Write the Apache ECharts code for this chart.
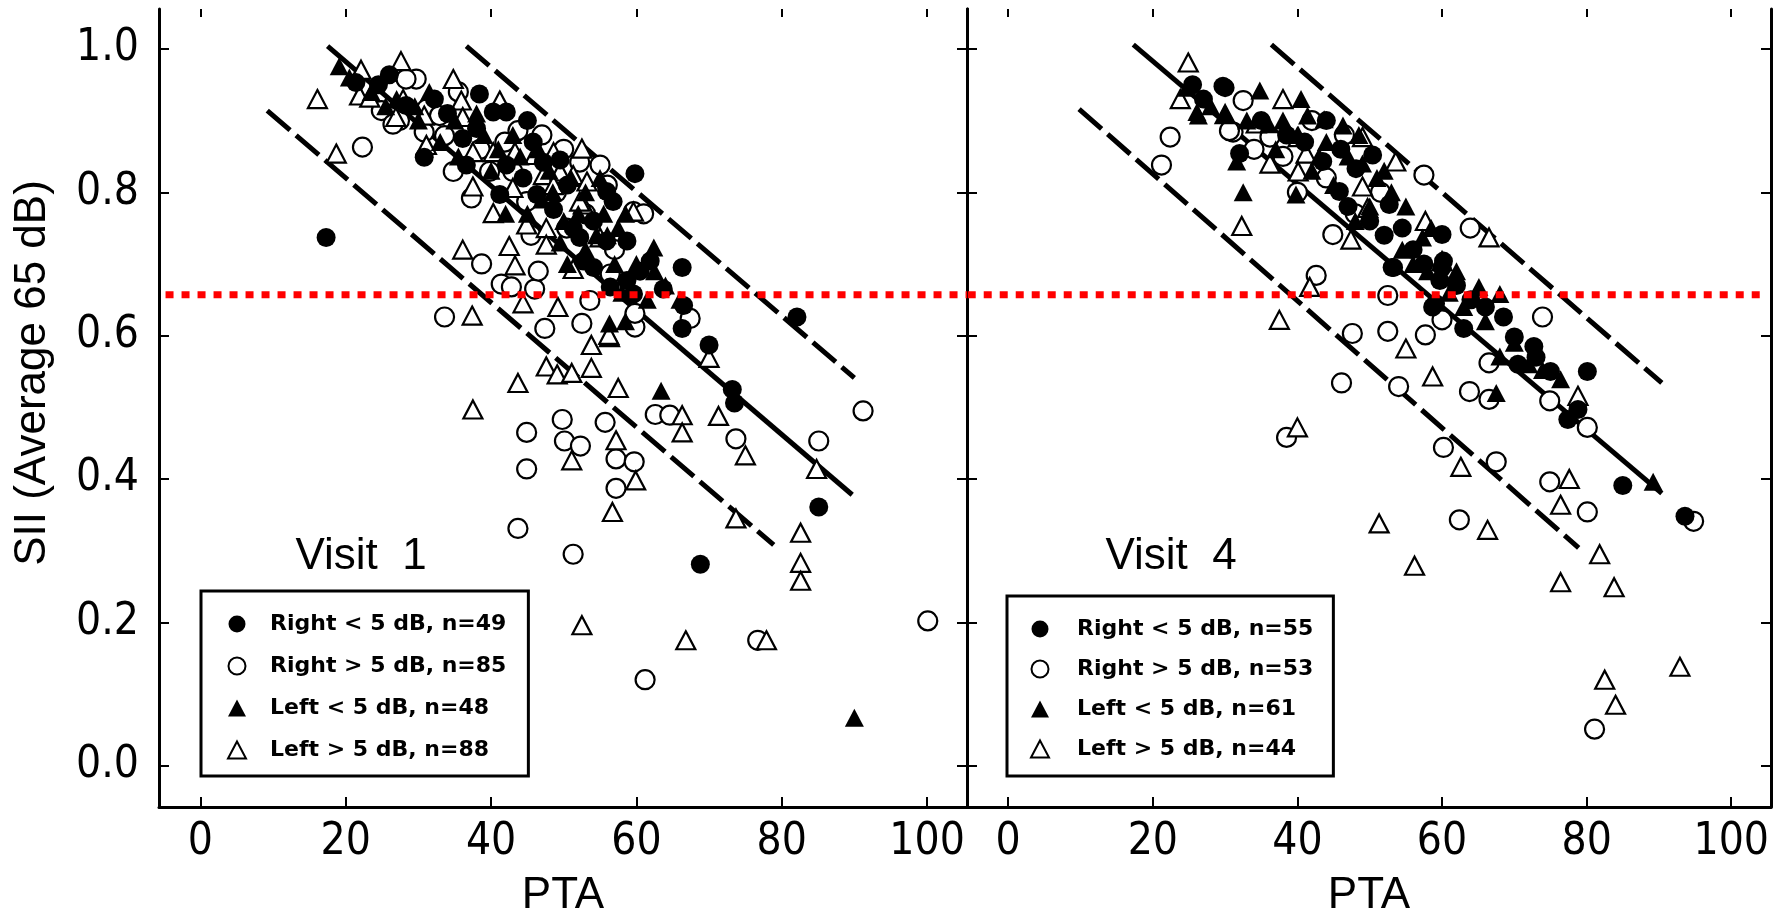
<!DOCTYPE html>
<html>
<head>
<meta charset="utf-8">
<title>SII vs PTA, Visit 1 and Visit 4</title>
<script src="https://cdn.jsdelivr.net/npm/echarts@6/dist/echarts.min.js"></script>
<style>
  html, body { margin: 0; padding: 0; background: #fff; }
  #chart { width: 1787px; height: 923px; }
</style>
</head>
<body>
<div id="chart"></div>
<script>
// ticks shared by both panels
const ptaTicks = [0, 20, 40, 60, 80, 100];
const siiTicks = [0, 0.2, 0.4, 0.6, 0.8, 1.0];
const siiCutoff = 0.657; // red dotted line

// ---- Visit 1 ----
const v1RightLt5 = [[17.3,0.737],[30.8,0.849],[38.4,0.937],[48.6,0.776],[59.8,0.826],[66.3,0.695],[63.7,0.665],[66.5,0.642],[66.3,0.610],[70.0,0.587],[82.1,0.626],[85.1,0.361],[68.8,0.281],[73.2,0.525],[73.5,0.506],[26.0,0.964],[21.4,0.953],[32.2,0.930],[28.3,0.921],[40.3,0.912],[42.1,0.912],[36.1,0.875],[38.0,0.889],[45.8,0.870],[47.2,0.842],[42.1,0.838],[36.6,0.838],[44.4,0.820],[41.2,0.797],[46.3,0.797],[55.9,0.801],[56.8,0.787],[54.1,0.760],[51.3,0.750],[55.9,0.732],[58.7,0.732],[52.7,0.704],[54.1,0.695],[58.7,0.677],[56.4,0.668],[59.6,0.658],[52.2,0.737],[61.9,0.704],[50.5,0.810],[49.5,0.845],[45.0,0.900],[34.0,0.910],[24.5,0.950],[60.5,0.690]];
const v1RightGt5 = [[22.3,0.863],[24.9,0.914],[27.4,0.900],[43.7,0.886],[34.8,0.829],[37.3,0.792],[59.6,0.773],[38.7,0.700],[41.4,0.672],[42.8,0.668],[46.0,0.665],[33.6,0.626],[47.4,0.610],[52.5,0.617],[53.6,0.649],[59.8,0.612],[59.8,0.631],[67.4,0.624],[56.4,0.686],[55.0,0.838],[43.0,0.829],[44.9,0.787],[50.4,0.750],[29.7,0.958],[28.3,0.958],[31.1,0.916],[32.9,0.907],[26.5,0.895],[30.8,0.884],[33.6,0.879],[41.9,0.870],[39.8,0.829],[52.2,0.842],[44.9,0.465],[44.9,0.414],[49.8,0.483],[50.1,0.453],[52.3,0.446],[55.7,0.479],[57.2,0.428],[59.7,0.424],[57.2,0.387],[62.6,0.490],[64.6,0.489],[73.7,0.456],[91.2,0.495],[85.1,0.453],[43.7,0.331],[51.3,0.295],[76.7,0.175],[61.2,0.120],[100.1,0.202],[47.0,0.880],[38.5,0.860],[49.0,0.800],[53.0,0.770],[57.0,0.720],[61.0,0.770],[35.5,0.940],[46.5,0.690],[50.0,0.860],[56.0,0.810],[45.5,0.740]];
const v1LeftLt5 = [[19.1,0.976],[62.4,0.723],[56.3,0.617],[63.4,0.523],[90.0,0.067],[23.5,0.940],[27.0,0.930],[29.5,0.920],[35.0,0.900],[39.0,0.880],[41.0,0.860],[44.0,0.850],[48.0,0.830],[51.0,0.820],[53.0,0.800],[55.5,0.770],[57.5,0.750],[50.0,0.760],[47.0,0.790],[45.0,0.770],[53.0,0.720],[57.0,0.700],[64.0,0.670],[56.0,0.740],[49.5,0.730],[58.0,0.660],[61.5,0.650],[30.0,0.900],[25.5,0.920],[33.0,0.870],[38.0,0.910],[43.0,0.880],[46.5,0.860],[52.0,0.770],[54.5,0.740],[60.0,0.700],[48.5,0.800],[40.0,0.830],[31.5,0.940],[20.5,0.960],[58.5,0.770],[62.5,0.690],[35.5,0.850],[42.0,0.770],[55.0,0.820],[50.5,0.700],[66.0,0.650],[58.5,0.620]];
const v1LeftGt5 = [[16.1,0.930],[22.1,0.971],[27.6,0.983],[18.7,0.854],[34.8,0.958],[41.2,0.928],[37.5,0.808],[40.3,0.771],[36.1,0.720],[42.5,0.725],[43.3,0.698],[37.4,0.628],[44.4,0.645],[49.2,0.640],[53.8,0.587],[56.3,0.598],[51.3,0.693],[59.6,0.773],[52.5,0.861],[48.6,0.856],[46.0,0.852],[44.9,0.755],[47.6,0.750],[47.6,0.727],[52.7,0.783],[21.9,0.935],[23.3,0.932],[27.9,0.930],[30.8,0.907],[26.9,0.905],[35.9,0.928],[36.1,0.905],[31.1,0.866],[37.5,0.856],[40.3,0.856],[43.3,0.856],[47.2,0.824],[49.5,0.829],[51.3,0.824],[43.0,0.806],[48.6,0.810],[53.2,0.815],[52.2,0.787],[55.0,0.737],[43.7,0.534],[37.5,0.497],[51.1,0.426],[47.6,0.557],[49.1,0.546],[51.1,0.548],[53.8,0.555],[56.2,0.601],[57.5,0.527],[57.2,0.454],[59.9,0.398],[56.7,0.354],[66.3,0.489],[66.3,0.465],[71.3,0.488],[75.0,0.433],[70.0,0.569],[84.8,0.414],[73.7,0.345],[82.6,0.325],[82.6,0.283],[82.6,0.258],[52.5,0.196],[66.8,0.175],[77.9,0.175]];

// ---- Visit 4 ----
const v4RightLt5 = [[30.0,0.946],[52.7,0.783],[60.0,0.741],[53.1,0.695],[60.0,0.695],[59.1,0.645],[59.7,0.677],[60.2,0.704],[53.3,0.695],[58.7,0.640],[70.0,0.598],[72.7,0.585],[80.1,0.550],[77.4,0.483],[78.8,0.497],[85.0,0.391],[93.6,0.348],[68.5,0.626],[32.0,0.854],[43.5,0.843],[48.1,0.833],[50.4,0.852],[45.8,0.801],[54.5,0.750],[27.0,0.930],[25.5,0.950],[35.0,0.900],[38.5,0.880],[41.0,0.870],[46.0,0.860],[47.0,0.780],[50.0,0.760],[56.0,0.720],[62.0,0.670],[64.0,0.650],[66.0,0.640],[75.0,0.550],[73.0,0.570],[29.7,0.948],[44.0,0.900],[52.0,0.740],[57.5,0.700],[63.0,0.610],[70.5,0.560]];
const v4RightGt5 = [[32.5,0.928],[31.1,0.884],[36.2,0.877],[57.5,0.824],[44.9,0.741],[63.9,0.750],[22.4,0.877],[21.2,0.838],[42.6,0.684],[52.5,0.656],[47.6,0.603],[52.5,0.606],[57.7,0.601],[60.0,0.622],[73.9,0.626],[66.5,0.562],[46.1,0.534],[63.8,0.522],[66.5,0.511],[74.9,0.509],[80.1,0.472],[54.0,0.529],[38.5,0.458],[60.2,0.444],[67.5,0.424],[74.9,0.396],[80.1,0.354],[62.4,0.343],[81.1,0.051],[94.8,0.341],[30.6,0.886],[34.0,0.860],[38.0,0.850],[40.0,0.800],[44.0,0.820],[48.0,0.770],[42.0,0.900],[46.5,0.880],[51.5,0.800]];
const v4LeftLt5 = [[24.7,0.946],[26.3,0.907],[34.8,0.942],[41.4,0.907],[43.7,0.902],[46.3,0.893],[31.6,0.843],[39.8,0.797],[57.3,0.737],[65.1,0.668],[68.0,0.658],[68.0,0.571],[73.9,0.552],[76.4,0.539],[67.5,0.520],[89.2,0.396],[28.0,0.920],[30.0,0.910],[33.0,0.900],[36.0,0.895],[38.0,0.900],[40.0,0.880],[44.0,0.870],[47.0,0.850],[49.0,0.840],[51.0,0.820],[53.0,0.800],[55.0,0.780],[42.0,0.830],[45.0,0.810],[56.0,0.700],[58.0,0.690],[61.0,0.660],[63.0,0.640],[66.0,0.620],[70.0,0.590],[72.0,0.560],[48.0,0.760],[50.0,0.780],[32.5,0.800],[26.1,0.912],[37.0,0.860],[43.0,0.850],[52.0,0.830],[58.5,0.750],[62.0,0.690],[54.5,0.720],[48.5,0.880],[40.5,0.930]];
const v4LeftGt5 = [[24.9,0.981],[23.8,0.930],[38.0,0.930],[30.0,0.909],[34.3,0.896],[49.0,0.877],[40.1,0.877],[41.2,0.854],[36.2,0.840],[40.1,0.829],[53.6,0.843],[49.0,0.808],[49.7,0.778],[47.4,0.734],[57.7,0.760],[66.5,0.737],[32.3,0.753],[60.0,0.704],[41.7,0.668],[37.5,0.622],[55.0,0.582],[58.7,0.543],[78.8,0.516],[40.0,0.472],[62.6,0.417],[77.6,0.400],[76.4,0.364],[51.3,0.338],[66.3,0.329],[56.2,0.279],[81.8,0.295],[76.4,0.256],[83.8,0.249],[92.9,0.138],[82.5,0.120],[84.0,0.085]];

// fitted line and its two bounds, as [start, end]
const v1Fit = [[17.5,1.004],[89.7,0.378]];
const v1Upper = [[36.6,1.004],[90.0,0.541]];
const v1Lower = [[9.2,0.914],[78.9,0.308]];
const v4Fit = [[17.3,1.006],[90.4,0.380]];
const v4Upper = [[36.4,1.006],[90.4,0.534]];
const v4Lower = [[9.8,0.916],[78.9,0.304]];
// how far the cutoff line runs in each panel
const v1CutX = [-4.8, 105.5];
const v4CutX = [-5.6, 104.6];

const v1Names = ['Right < 5 dB, n=49', 'Right > 5 dB, n=85', 'Left < 5 dB, n=48', 'Left > 5 dB, n=88'];
const v4Names = ['Right < 5 dB, n=55', 'Right > 5 dB, n=53', 'Left < 5 dB, n=61', 'Left > 5 dB, n=44'];

const NARROW = "'Liberation Sans Narrow', 'DejaVu Sans Condensed', sans-serif";
const SANS = "'Liberation Sans', Arial, sans-serif";

const chart = echarts.init(document.getElementById('chart'));

function xAxes(gi) {
  return [{
    type: 'value', gridIndex: gi, min: -5.7, max: 105.5,
    axisLine: { onZero: false, lineStyle: { color: '#000', width: 3 } },
    axisTick: { inside: true, length: 10, customValues: ptaTicks, lineStyle: { color: '#000', width: 2 } },
    axisLabel: { customValues: ptaTicks, margin: 14, color: '#000', fontFamily: NARROW, fontSize: 44 },
    splitLine: { show: false },
    name: 'PTA', nameLocation: 'middle', nameGap: 67,
    nameTextStyle: { color: '#000', fontFamily: SANS, fontSize: 44 }
  }, {
    type: 'value', gridIndex: gi, position: 'top', min: -5.7, max: 105.5,
    axisLine: { show: false, onZero: false },
    axisTick: { show: true, inside: true, length: 8, customValues: ptaTicks, lineStyle: { color: '#000', width: 2 } },
    axisLabel: { show: false },
    splitLine: { show: false }
  }];
}

function yAxes(gi, labels) {
  const base = {
    type: 'value', gridIndex: gi, min: -0.0576, max: 1.0557,
    axisLine: { show: true, onZero: false, lineStyle: { color: '#000', width: 3 } },
    axisTick: { show: true, inside: true, length: 10, customValues: siiTicks, lineStyle: { color: '#000', width: 2 } },
    splitLine: { show: false }
  };
  return [
    Object.assign({}, base, {
      position: 'left',
      axisLabel: { show: labels, customValues: siiTicks, margin: 20, color: '#000', fontFamily: NARROW, fontSize: 44,
        formatter: v => v.toFixed(1) }
    }),
    Object.assign({}, base, { position: 'right', axisLabel: { show: false } })
  ];
}

function scatter(name, data, gi, symbol, filled) {
  return {
    name, type: 'scatter', data, xAxisIndex: gi * 2, yAxisIndex: gi * 2,
    symbol, symbolSize: symbol === 'circle' ? 19 : [19, 18], silent: true, z: 3,
    itemStyle: filled
      ? { color: '#000', opacity: 1 }
      : { color: '#fff', borderColor: '#000', borderWidth: 2.2, opacity: 1 }
  };
}

function fitLine(data, gi, dashed) {
  return {
    type: 'line', data, xAxisIndex: gi * 2, yAxisIndex: gi * 2,
    symbol: 'none', silent: true, z: 2,
    lineStyle: { color: '#000', width: 5, type: dashed ? [30, 8] : 'solid', cap: 'butt' }
  };
}

function cutLine(xs, gi) {
  return {
    type: 'line', data: [[xs[0], siiCutoff], [xs[1], siiCutoff]], xAxisIndex: gi * 2, yAxisIndex: gi * 2,
    symbol: 'none', silent: true, z: 6,
    lineStyle: { color: '#ff0000', width: 7, type: [8, 8], cap: 'butt' }
  };
}

// open markers go under the filled ones, like the dense black band of the original
function panelSeries(names, rl, rg, ll, lg, fit, up, lo, cutX, gi) {
  return [
    fitLine(fit, gi, false), fitLine(up, gi, true), fitLine(lo, gi, true),
    scatter(names[1], rg, gi, 'circle', false),
    scatter(names[3], lg, gi, 'triangle', false),
    scatter(names[0], rl, gi, 'circle', true),
    scatter(names[2], ll, gi, 'triangle', true),
    cutLine(cutX, gi)
  ];
}

function legendBox(names, left, top, padding, textPad, gap) {
  return {
    data: [
      { name: names[0], icon: 'circle' }, { name: names[1], icon: 'circle' },
      { name: names[2], icon: 'triangle' }, { name: names[3], icon: 'triangle' }
    ],
    left, top, orient: 'vertical', selectedMode: false,
    itemWidth: 18, itemHeight: 17, itemGap: gap, padding,
    borderColor: '#000', borderWidth: 3, backgroundColor: '#fff',
    textStyle: { color: '#000', fontFamily: "'DejaVu Sans', sans-serif", fontWeight: 'bold', fontSize: 22, padding: [0, 0, 0, textPad] }
  };
}

chart.setOption({
  animation: false,
  backgroundColor: '#fff',
  grid: [
    { left: 159, top: 9, width: 808, height: 806 },
    { left: 967, top: 9, width: 804, height: 806 }
  ],
  xAxis: xAxes(0).concat(xAxes(1)),
  yAxis: yAxes(0, true).concat(yAxes(1, false)),
  legend: [
    legendBox(v1Names, 201, 591, [22, 22, 15, 26], 19, 20),
    legendBox(v4Names, 1007, 596, [22, 20, 16, 23], 23, 18)
  ],
  graphic: [
    { type: 'text', x: 33, y: 373, rotation: Math.PI / 2,
      style: { text: 'SII (Average 65 dB)', fill: '#000', font: "44px " + SANS, align: 'center', verticalAlign: 'middle' } },
    { type: 'text', x: 361, y: 557,
      style: { text: 'Visit  1', fill: '#000', font: "44px " + SANS, align: 'center', verticalAlign: 'middle' } },
    { type: 'text', x: 1171, y: 557,
      style: { text: 'Visit  4', fill: '#000', font: "44px " + SANS, align: 'center', verticalAlign: 'middle' } }
  ],
  series: panelSeries(v1Names, v1RightLt5, v1RightGt5, v1LeftLt5, v1LeftGt5, v1Fit, v1Upper, v1Lower, v1CutX, 0)
    .concat(panelSeries(v4Names, v4RightLt5, v4RightGt5, v4LeftLt5, v4LeftGt5, v4Fit, v4Upper, v4Lower, v4CutX, 1))
});
</script>
</body>
</html>
